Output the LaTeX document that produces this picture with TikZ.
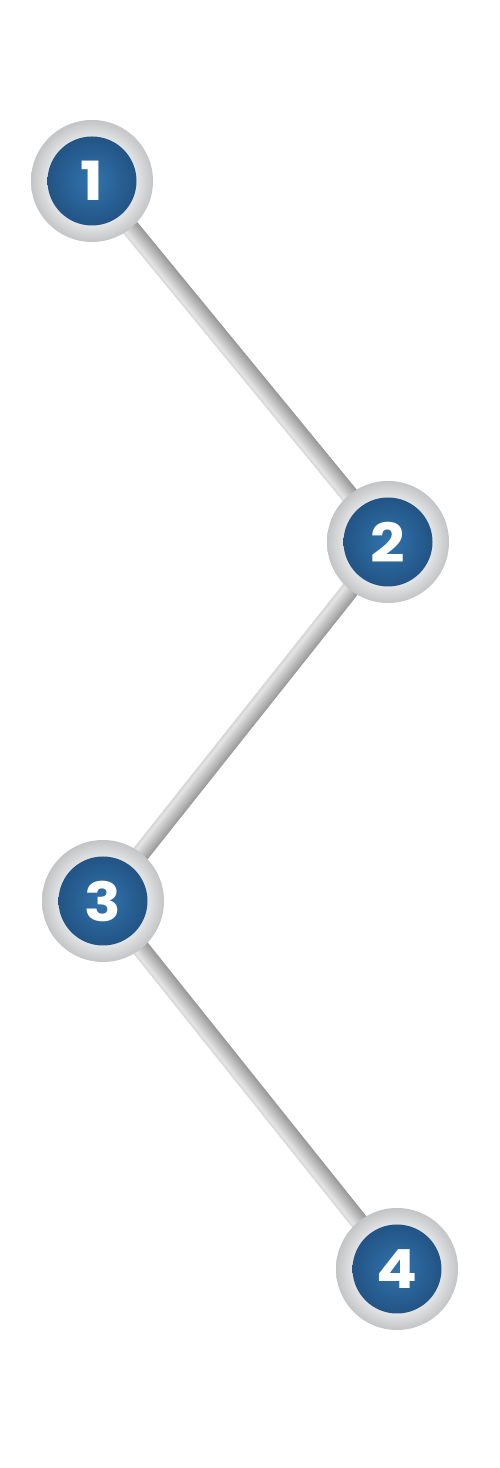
\documentclass[tikz,border=0pt]{standalone}
\usepackage{fontspec}
\setmainfont{Poppins}[FakeStretch=1.12]
\usetikzlibrary{calc,backgrounds}
\definecolor{ringin}{HTML}{E4E5E7}
\definecolor{ringout}{HTML}{C3C4C6}
\definecolor{bluein}{HTML}{3174AD}
\definecolor{blueout}{HTML}{1D4876}
\definecolor{tubeL}{HTML}{D6D6D6}
\definecolor{tubeH}{HTML}{E4E4E4}
\definecolor{tubeD}{HTML}{969696}
\pgfdeclareradialshading{ringshade}{\pgfpoint{0bp}{0bp}}{color(0bp)=(ringin); color(18bp)=(ringin); color(25bp)=(ringout); color(50bp)=(ringout)}
\pgfdeclareradialshading{blueshade}{\pgfpoint{0bp}{0bp}}{color(0bp)=(bluein); color(25bp)=(blueout); color(50bp)=(blueout)}
\pgfdeclareverticalshading{tubeshade}{100bp}{color(0bp)=(tubeL); color(25bp)=(tubeL); color(33bp)=(tubeH); color(75bp)=(tubeD); color(100bp)=(tubeD)}
\tikzset{
  station/.style={circle, minimum size=122pt, inner sep=0pt, shading=ringshade,
    path picture={\shade[shading=blueshade] (path picture bounding box.center) circle (44.5pt);},
    text=white, font=\fontsize{54}{54}\selectfont\bfseries},
  tube/.style={shading=tubeshade}
}
\begin{document}
\begin{tikzpicture}[x=1pt,y=1pt]
\useasboundingbox (0,0) rectangle (500,1468);
\node[station] (n1) at (92,1287) {1};
\node[station] (n2) at (388,926) {2};
\node[station] (n3) at (103,567) {3};
\node[station] (n4) at (397,199) {4};
\begin{scope}[on background layer]
\fill[white] (0,0) rectangle (500,1468);
\foreach \a/\b in {n1/n2,n2/n3,n3/n4}{
  \path let \p1=($(\b)-(\a)$), \n1={veclen(\x1,\y1)}, \n2={atan2(\y1,\x1)} in
    \pgfextra{\xdef\tubelen{\n1}\xdef\tubeang{\n2}};
  \begin{scope}[transform canvas={shift={(\a)}, rotate=\tubeang}]
    \shade[tube] (0,-9) rectangle (\tubelen,9);
  \end{scope}
}
\end{scope}
\end{tikzpicture}
\end{document}
